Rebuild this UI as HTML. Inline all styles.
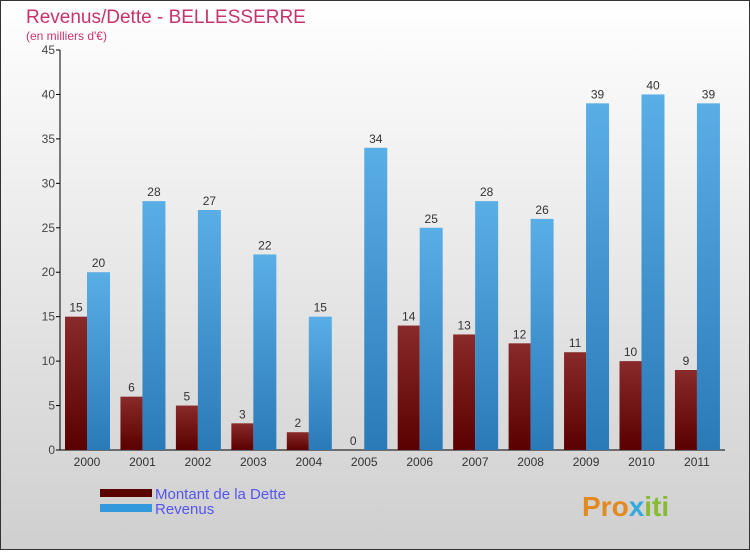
<!DOCTYPE html>
<html><head><meta charset="utf-8"><style>
body{margin:0;width:750px;height:550px;overflow:hidden;font-family:"Liberation Sans",sans-serif}
</style></head><body>
<svg width="750" height="550" xmlns="http://www.w3.org/2000/svg">
<defs>
<linearGradient id="bg" x1="0" y1="0" x2="0" y2="1"><stop offset="0" stop-color="#ffffff"/><stop offset="1" stop-color="#cfcfcf"/></linearGradient>
<linearGradient id="gd" x1="0" y1="0" x2="0" y2="1"><stop offset="0" stop-color="#8a2a2a"/><stop offset="1" stop-color="#5a0000"/></linearGradient>
<linearGradient id="gr" x1="0" y1="0" x2="0" y2="1"><stop offset="0" stop-color="#5aaee6"/><stop offset="1" stop-color="#2a7ab8"/></linearGradient>
</defs>
<rect x="0.5" y="0.5" width="749" height="549" fill="url(#bg)" stroke="#333"/>
<text x="26" y="23" font-size="19" fill="#c8336a">Revenus/Dette - BELLESSERRE</text>
<text x="26" y="40" font-size="12" fill="#c8336a">(en milliers d'€)</text>
<g id="plot"></g>
<rect x="100" y="489" width="52" height="8" fill="#5a0000"/>
<text x="155" y="499" font-size="15" fill="#5555ee">Montant de la Dette</text>
<rect x="100" y="504" width="52" height="8" fill="#3399dd"/>
<text x="155" y="514" font-size="15" fill="#5555ee">Revenus</text>
<text x="582" y="516" font-size="28" font-weight="bold" fill="#e08a20">Pro<tspan fill="#33aadd">x</tspan><tspan fill="#88bb33">iti</tspan></text>
</svg>
<script>
const years=["2000","2001","2002","2003","2004","2005","2006","2007","2008","2009","2010","2011"];
const dette=[15,6,5,3,2,0,14,13,12,11,10,9];
const revenus=[20,28,27,22,15,34,25,28,26,39,40,39];
const ticks=[0,5,10,15,20,25,30,35,40,45];
const NS="http://www.w3.org/2000/svg";
const g=document.getElementById('plot');
const y0=450,ppu=400/45,x0=87,step=55.45;
const yS=v=>y0-v*ppu;
function mk(t,a,txt){const e=document.createElementNS(NS,t);for(const k in a)e.setAttribute(k,a[k]);if(txt!==undefined)e.textContent=txt;g.appendChild(e);return e;}
let ax=mk('line',{x1:60,y1:50,x2:60,y2:450,stroke:'#000'});


let bx=mk('line',{x1:60,y1:450,x2:725,y2:450,stroke:'#000'});


ticks.forEach(t=>{
 let l=mk('line',{x1:56,y1:yS(t),x2:60,y2:yS(t),stroke:'#000'});
 
 
 let tx=mk('text',{x:55,y:yS(t)+4,'font-size':12,fill:'#444','text-anchor':'end'},String(t));
 
 
});
years.forEach((yr,i)=>{
 const c=x0+i*step;
 let a=mk('rect',{x:c-22,y:yS(dette[i]),width:22,height:dette[i]*ppu,fill:'url(#gd)'});
 
 
 let b=mk('rect',{x:c,y:yS(revenus[i]),width:23,height:revenus[i]*ppu,fill:'url(#gr)'});
 
 
 let t1=mk('text',{x:c-11,y:yS(dette[i])-5,'font-size':12,fill:'#333','text-anchor':'middle'},String(dette[i]));
 
 
 let t2=mk('text',{x:c+11.5,y:yS(revenus[i])-5,'font-size':12,fill:'#333','text-anchor':'middle'},String(revenus[i]));
 
 
 let xl=mk('text',{x:c,y:466,'font-size':12,fill:'#333','text-anchor':'middle'},yr);
 
 
});
</script>
</body></html>
